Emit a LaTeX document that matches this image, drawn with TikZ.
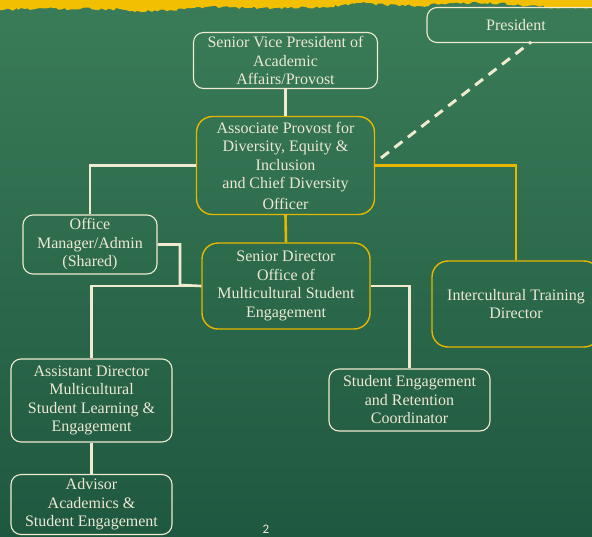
\documentclass[tikz,border=0pt]{standalone}
\usepackage{fontspec}
\setmainfont{Liberation Serif}
\newfontfamily\pagenumfont{Carlito}
\usetikzlibrary{calc,decorations.pathmorphing}
\definecolor{bgtop}{RGB}{58,124,88}
\definecolor{bgbot}{RGB}{31,88,64}
\definecolor{cream}{RGB}{240,234,208}
\definecolor{gold}{RGB}{230,182,0}
\definecolor{chalk}{RGB}{242,192,0}
\definecolor{txt}{RGB}{236,232,212}
\begin{document}
\begin{tikzpicture}[x=1pt,y=-1pt,
  box/.style={draw=cream, line width=1.1pt, rounded corners=10pt, inner sep=0pt,
    text=txt, align=center, font=\fontsize{16}{18.5}\selectfont},
  goldbox/.style={box, draw=gold, line width=1.4pt, rounded corners=16pt},
  wire/.style={draw=cream, line width=2.6pt},
  goldwire/.style={draw=gold, line width=2.6pt},
  dashwire/.style={draw=cream, line width=3pt, dash pattern=on 10pt off 7pt}]
\useasboundingbox (0,0) rectangle (592,536);
\clip (0,0) rectangle (592,536);
\shade[top color=bgtop, bottom color=bgbot] (0,0) rectangle (592,536);
% chalk strip
\fill[chalk, decorate, decoration={random steps, segment length=3pt, amplitude=1.4pt}]
  (-5,-5) -- (600,-5) -- (600,7) -- (560,8) -- (520,5) -- (500,3) -- (450,3) -- (420,6)
  -- (385,5) -- (360,3) -- (330,7) -- (260,8) -- (200,7) -- (170,10) -- (135,12)
  -- (120,9) -- (80,9) -- (40,8) -- (0,10) -- (-5,10) -- cycle;

% nodes
\node[box, minimum width=178pt, minimum height=35pt] (pres) at (516,25) {President};
\node[box, minimum width=184pt, minimum height=56pt] (svp) at (285.5,60.5)
  {Senior Vice President of\\Academic\\Affairs/Provost};
\node[goldbox, minimum width=178pt, minimum height=98pt] (ap) at (285.5,165.5)
  {Associate Provost for\\Diversity, Equity \&\\Inclusion\\and Chief Diversity\\[2pt]Officer};
\node[box, minimum width=134pt, minimum height=59pt] (om) at (90,244.5)
  {Office\\Manager/Admin\\(Shared)};
\node[goldbox, minimum width=168pt, minimum height=86pt] (sd) at (286,286)
  {Senior Director\\Office of\\Multicultural Student\\Engagement};
\node[goldbox, minimum width=168pt, minimum height=86pt] (itd) at (516,304)
  {Intercultural Training\\Director};
\node[box, minimum width=161pt, minimum height=83pt] (ad) at (91.5,400.5)
  {Assistant Director\\Multicultural\\Student Learning \&\\Engagement};
\node[box, minimum width=161pt, minimum height=62pt] (sec) at (409.5,400)
  {Student Engagement\\and Retention\\Coordinator};
\node[box, minimum width=161pt, minimum height=60pt] (adv) at (91.5,504.5)
  {Advisor\\Academics \&\\Student Engagement};
\node[anchor=north, inner sep=0pt, text=txt, font=\pagenumfont\fontsize{13}{13}\selectfont] (pg) at (266,525) {2};

% connectors
\coordinate (dstart) at (381,158);
\coordinate (dend) at (531,42);
\coordinate (omj) at (180,285);
\draw[wire] (svp.south) -- (ap.north);
\draw[wire] (ap.west) -| (om.north);
\draw[goldwire] (ap.east) -| (itd.north);
\draw[goldwire] (ap.south) -- (sd.north);
\draw[dashwire] (dstart) -- (dend);
\draw[wire] (om.east) -| (omj) -- (sd.west);
\draw[wire] (sd.west) -| (ad.north);
\draw[wire] (sd.east) -| (sec.north);
\draw[wire] (ad.south) -- (adv.north);
\end{tikzpicture}
\end{document}
